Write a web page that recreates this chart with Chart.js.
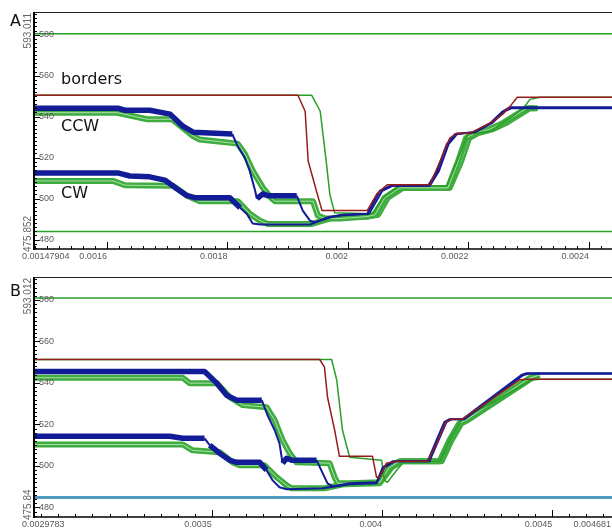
<!DOCTYPE html>
<html>
<head>
<meta charset="utf-8">
<script src="https://cdn.jsdelivr.net/npm/chart.js@4.4.1/dist/chart.umd.min.js"></script>
<style>
  html, body { margin: 0; padding: 0; background: #fff; overflow: hidden; width: 612px; height: 529px; }
  canvas { position: absolute; left: 0; }
  #chartA { top: 0; }
  #chartB { top: 264px; }
  .tag { position: absolute; font-family: "DejaVu Sans", sans-serif; font-size: 16px; line-height: 16px; color: #111; white-space: nowrap; }
</style>
</head>
<body>
<canvas id="chartA" width="616" height="264"></canvas>
<canvas id="chartB" width="616" height="265"></canvas>
<div class="tag" style="left:10px;top:13px">A</div>
<div class="tag" style="left:10px;top:283px">B</div>
<div class="tag" style="left:61px;top:71px">borders</div>
<div class="tag" style="left:61px;top:118px">CCW</div>
<div class="tag" style="left:61px;top:185px">CW</div>
<script>
// ---- panel A ----
const aXMin = 0.00147904, aXMax = 0.0024415;
const aYMin = 475.852, aYMax = 593.011;
const aXTicks = [0.0016, 0.0018, 0.002, 0.0022, 0.0024];
const aXTickLabels = ['0.0016', '0.0018', '0.002', '0.0022', '0.0024'];

const aEdgeX = [0.00147904, 0.0024415];
const aTopY = [580.5, 580.5];
const aBotY = [483.9, 483.9];

const aRedX = [0.00147904, 0.001917, 0.001929, 0.001934, 0.001949, 0.001957, 0.002032, 0.002048, 0.002065, 0.002136, 0.002153, 0.002169, 0.002181, 0.002203, 0.002236, 0.002257, 0.002269, 0.002281, 0.0024415];
const aRedY = [550.4, 550.4, 542.6, 518.3, 502.3, 494.1, 494.1, 502.3, 506.7, 506.7, 518.3, 529.5, 531.9, 531.9, 536.8, 541.2, 545.0, 549.4, 549.4];

const aGrnX = [0.00147904, 0.00194, 0.001954, 0.001964, 0.00197, 0.001978, 0.00204, 0.002058, 0.002086, 0.002164, 0.002186, 0.002199, 0.002236, 0.002269, 0.002291, 0.002302, 0.002319, 0.0024415];
const aGrnY = [550.4, 550.4, 542.6, 518.0, 502.0, 493.0, 492.6, 500.4, 506.2, 506.2, 521.7, 531.5, 532.9, 539.2, 544.1, 548.4, 549.4, 549.4];

const aCcwX = [0.00147904, 0.001618, 0.00163, 0.001671, 0.001705, 0.001726, 0.001743, 0.001808, 0.001817, 0.001829, 0.001837, 0.001846, 0.001849, 0.001859, 0.001867, 0.001915, 0.001925, 0.001937, 0.001945, 0.00197, 0.001987, 0.002032, 0.002053, 0.00207, 0.002133, 0.002148, 0.002164, 0.002178, 0.002208, 0.002236, 0.002257, 0.002269, 0.0024415];
const aCcwY = [544.1, 544.1, 543.1, 543.1, 541.2, 535.3, 532.4, 531.5, 525.6, 519.8, 513.5, 503.8, 499.9, 502.3, 501.4, 501.4, 494.1, 489.2, 488.3, 490.7, 491.7, 492.6, 503.8, 506.2, 506.2, 513.5, 526.6, 531.5, 532.4, 536.8, 542.6, 544.6, 544.6];

const aCwX = [0.00147904, 0.001618, 0.001638, 0.001671, 0.001696, 0.001716, 0.001733, 0.001746, 0.001804, 0.001821, 0.001832, 0.001842, 0.001854, 0.001937, 0.001965, 0.001992, 0.002035, 0.002057, 0.002074, 0.002136, 0.002151, 0.002167, 0.002181, 0.002211, 0.002239, 0.00226, 0.002272, 0.0024415];
const aCwY = [512.5, 512.5, 511.0, 510.6, 509.0, 504.8, 501.4, 500.4, 500.4, 495.5, 492.6, 487.8, 487.3, 487.3, 490.7, 492.1, 492.6, 503.8, 506.2, 506.2, 513.5, 526.6, 531.5, 532.4, 536.8, 542.6, 544.1, 544.1];

const aGccX = [0.00147904, 0.001617, 0.001667, 0.001708, 0.001743, 0.001754, 0.001817, 0.001829, 0.001842, 0.001859, 0.001874, 0.001879, 0.001942, 0.00195, 0.001962, 0.001987, 0.002032, 0.002045, 0.002061, 0.002086, 0.002166, 0.002183, 0.002196, 0.002211, 0.002236, 0.002257, 0.002281, 0.002297, 0.00231];
const aGccY = [541.9, 541.9, 538.7, 538.7, 530.5, 528.8, 526.8, 521.7, 513.5, 505.2, 499.9, 498.7, 498.7, 491.7, 490.2, 490.2, 491.2, 492.1, 500.4, 505.2, 505.2, 518.3, 529.5, 531.9, 533.9, 536.8, 541.2, 544.1, 544.1];

const aGcwX = [0.00147904, 0.00161, 0.00163, 0.00171, 0.001733, 0.001754, 0.001817, 0.001837, 0.001854, 0.001867, 0.00194, 0.00197, 0.001995, 0.002032, 0.00205, 0.002066, 0.002091, 0.002169, 0.002188, 0.002201, 0.002216, 0.002241, 0.002262, 0.002286, 0.002302, 0.002315];
const aGcwY = [508.6, 508.6, 506.5, 506.2, 501.4, 498.7, 498.7, 492.6, 489.2, 487.6, 487.6, 490.2, 491.2, 491.2, 492.1, 500.4, 505.2, 505.2, 518.3, 529.5, 531.9, 533.9, 536.8, 541.2, 544.1, 544.1];

// ---- panel B ----
const bXMin = 0.0029783, bXMax = 0.004681;
const bYMin = 475.84, bYMax = 593.012;
const bXTicks = [0.0035, 0.004, 0.0045, 0.004681];
const bXTickLabels = ['0.0035', '0.004', '0.0045', '0.004681'];

const bEdgeX = [0.0029783, 0.004681];
const bTopY = [581.0, 581.0];
const bBotY = [484.8, 484.8];

const bRedX = [0.0029783, 0.003817, 0.003831, 0.00384, 0.003861, 0.003875, 0.003972, 0.003984, 0.003993, 0.004013, 0.004043, 0.004134, 0.00416, 0.004189, 0.004204, 0.004236, 0.004403, 0.004424, 0.004681];
const bRedY = [551.3, 551.3, 547.6, 533.1, 517.2, 504.6, 504.6, 494.5, 494.5, 501.3, 502.2, 502.2, 510.9, 521.1, 522.5, 522.5, 541.4, 541.8, 541.8];

const bGrnX = [0.0029783, 0.003852, 0.003867, 0.003884, 0.003905, 0.003999, 0.004007, 0.004016, 0.004043, 0.004066, 0.004169, 0.004198, 0.004227, 0.004236, 0.004439, 0.004462, 0.004681];
const bGrnY = [551.3, 551.3, 541.4, 517.2, 504.2, 502.7, 493.0, 492.1, 497.9, 502.2, 502.2, 512.4, 520.6, 522.5, 541.4, 541.8, 541.8];

const bCcwX = [0.0029783, 0.003479, 0.003515, 0.003544, 0.003573, 0.003647, 0.003664, 0.003685, 0.003699, 0.003708, 0.00372, 0.003735, 0.003808, 0.003826, 0.00384, 0.003855, 0.003905, 0.003984, 0.004002, 0.004031, 0.004134, 0.00416, 0.004183, 0.004198, 0.004236, 0.004409, 0.004424, 0.004681];
const bCcwY = [545.5, 545.5, 539.9, 534.1, 531.7, 531.7, 524.4, 517.2, 510.9, 501.3, 503.7, 502.7, 502.7, 496.4, 491.6, 490.1, 491.6, 492.1, 499.3, 502.2, 502.2, 512.4, 521.1, 522.5, 522.5, 543.8, 544.7, 544.7];

const bCwX = [0.0029783, 0.003377, 0.003415, 0.003479, 0.003494, 0.003523, 0.003553, 0.003573, 0.003641, 0.003661, 0.003679, 0.003699, 0.00372, 0.003826, 0.003905, 0.003984, 0.004007, 0.004037, 0.004139, 0.004166, 0.004189, 0.004204, 0.004242, 0.004415, 0.00443, 0.004681];
const bCwY = [514.3, 514.3, 513.3, 513.3, 510.0, 506.1, 502.7, 501.7, 501.7, 497.9, 493.0, 489.7, 488.7, 489.2, 491.2, 491.6, 499.3, 502.2, 502.2, 512.4, 521.1, 522.5, 522.5, 543.8, 544.4, 544.4];

const bGccX = [0.0029783, 0.003415, 0.003435, 0.003515, 0.003553, 0.003591, 0.003661, 0.003685, 0.003708, 0.003729, 0.003749, 0.003846, 0.003861, 0.00387, 0.003905, 0.003993, 0.004022, 0.004051, 0.004169, 0.004198, 0.004227, 0.004245, 0.004433, 0.004462];
const bGccY = [542.5, 542.5, 539.9, 539.9, 533.1, 529.3, 528.3, 522.0, 512.4, 506.1, 501.7, 501.3, 494.5, 491.6, 491.6, 492.1, 499.3, 502.2, 502.2, 512.4, 520.6, 522.0, 542.3, 543.8];

const bGcwX = [0.0029783, 0.003415, 0.003444, 0.003523, 0.003562, 0.003582, 0.003655, 0.003691, 0.00372, 0.003735, 0.003831, 0.00389, 0.003993, 0.004028, 0.004057, 0.004175, 0.004204, 0.004233, 0.004251, 0.004439, 0.004462];
const bGcwY = [510.3, 510.3, 507.5, 506.6, 501.7, 500.3, 500.3, 494.5, 490.6, 489.2, 489.2, 491.2, 491.6, 499.3, 502.2, 502.2, 512.4, 520.6, 522.0, 542.3, 543.8];

const yTickValues = [480, 500, 520, 540, 560, 580];

const RED = 'rgb(150, 28, 28)';
const GREEN = 'rgb(40, 160, 40)';
const BUNDLE = 'rgb(62, 172, 62)';
const STRIPE = 'rgba(185, 230, 185, 0.9)';
const BLUE = 'rgb(18, 28, 150)';

function pts(xs, ys) {
    return xs.map((x, i) => ({ x: x, y: ys[i] }));
}

function thinLine(xs, ys, color, width) {
    return { data: pts(xs, ys), borderColor: color, borderWidth: width };
}

// blue traces: several runs overlap on the flats, so they read thick there
function blueLine(xs, ys, thinFrom) {
    return {
        data: pts(xs, ys),
        borderColor: BLUE,
        borderWidth: 5.5,
        segment: {
            borderWidth: ctx => {
                const a = ctx.p0, b = ctx.p1;
                const steep = Math.abs(b.y - a.y) > 1.3 * Math.abs(b.x - a.x);
                return (steep || xs[ctx.p0DataIndex] >= thinFrom) ? 2 : 5.5;
            }
        }
    };
}

const axisDeco = {
    id: 'axisDeco',
    afterDraw(chart, args, o) {
        const ctx = chart.ctx;
        const a = chart.chartArea;
        const xs = chart.scales.x, ys = chart.scales.y;
        const axisY = a.bottom + 1;
        const seg = (x1, y1, x2, y2) => { ctx.beginPath(); ctx.moveTo(x1, y1); ctx.lineTo(x2, y2); ctx.stroke(); };
        ctx.save();

        ctx.strokeStyle = '#222';
        ctx.lineWidth = 1;
        seg(a.left, a.top + 4.5, a.right, a.top + 4.5);

        ctx.strokeStyle = '#000';
        ctx.lineWidth = 2;
        seg(a.left, a.top + 4, a.left, axisY + 1);
        ctx.lineWidth = 1.5;
        seg(a.left, axisY, a.right, axisY);

        // y ticks
        ctx.lineWidth = 1;
        for (let k = Math.ceil(o.yMin / 2); k * 2 <= o.yMax; k++) {
            const v = k * 2;
            const py = Math.round(ys.getPixelForValue(v)) + 0.5;
            if (py < a.top + 5) continue;
            seg(a.left, py, a.left + (v % 20 === 0 ? 6 : 3), py);
        }
        // x ticks
        const n0 = Math.ceil(o.xMin / o.xMinor), n1 = Math.floor(o.xMax / o.xMinor);
        for (let k = n0; k <= n1; k++) {
            const px = Math.round(xs.getPixelForValue(k * o.xMinor)) + 0.5;
            seg(px, axisY, px, axisY - 3);
        }
        o.xTicks.forEach(v => {
            const px = Math.round(xs.getPixelForValue(v)) + 0.5;
            seg(px, axisY, px, axisY - 7);
        });

        // labels
        ctx.fillStyle = '#5a5a5a';
        ctx.font = '9px "Liberation Sans", Arial, sans-serif';
        ctx.textBaseline = 'middle';
        ctx.textAlign = 'left';
        yTickValues.forEach(v => {
            ctx.fillText(String(v), a.left + 5, ys.getPixelForValue(v));
        });
        ctx.fillText(o.xMinLabel, 22, axisY + 8);
        ctx.textAlign = 'right';
        o.xTicks.forEach((v, i) => {
            const px = Math.min(xs.getPixelForValue(v), 611);
            ctx.fillText(o.xLabels[i], px, axisY + 8);
        });

        ctx.font = '10px "Liberation Sans", Arial, sans-serif';
        ctx.fillStyle = '#666';
        ctx.save();
        ctx.translate(28, a.top + 5);
        ctx.rotate(-Math.PI / 2);
        ctx.textAlign = 'right';
        ctx.fillText(o.yMaxLabel, 0, 0);
        ctx.restore();
        ctx.save();
        ctx.translate(28, axisY + 3);
        ctx.rotate(-Math.PI / 2);
        ctx.textAlign = 'left';
        ctx.fillText(o.yMinLabel, 0, 0);
        ctx.restore();

        ctx.restore();
    }
};

function makeChart(id, datasets, pad, x0, x1, y0, y1, deco) {
    return new Chart(document.getElementById(id), {
        type: 'line',
        data: { datasets: datasets },
        options: {
            responsive: false,
            animation: false,
            events: [],
            parsing: false,
            layout: { padding: pad },
            elements: {
                point: { radius: 0 },
                line: { tension: 0, borderJoinStyle: 'round', fill: false }
            },
            plugins: {
                legend: { display: false },
                tooltip: { enabled: false },
                axisDeco: Object.assign({ xMin: x0, xMax: x1, yMin: y0, yMax: y1 }, deco)
            },
            scales: {
                x: { type: 'linear', min: x0, max: x1, display: false },
                y: { type: 'linear', min: y0, max: y1, display: false }
            }
        },
        plugins: [axisDeco]
    });
}

// first dataset is drawn on top; the light stripe runs inside each green bundle
makeChart('chartA', [
    thinLine(aRedX, aRedY, RED, 1.5),
    blueLine(aCcwX, aCcwY, 0.00192),
    blueLine(aCwX, aCwY, 0.00182),
    thinLine(aGrnX, aGrnY, GREEN, 1.5),
    thinLine(aGccX, aGccY, STRIPE, 1),
    thinLine(aGccX, aGccY, BUNDLE, 6),
    thinLine(aGcwX, aGcwY, STRIPE, 1),
    thinLine(aGcwX, aGcwY, BUNDLE, 6),
    thinLine(aEdgeX, aTopY, GREEN, 1.5),
    thinLine(aEdgeX, aBotY, GREEN, 1.5)
], { left: 34, right: 2, top: 8, bottom: 16 }, aXMin, aXMax, aYMin, aYMax, {
    xMinor: 0.00002, xTicks: aXTicks, xLabels: aXTickLabels,
    xMinLabel: '0.00147904', yMinLabel: '475.852', yMaxLabel: '593.011'
});

makeChart('chartB', [
    thinLine(bRedX, bRedY, RED, 1.5),
    blueLine(bCcwX, bCcwY, 0.00381),
    blueLine(bCwX, bCwY, 0.00366),
    thinLine(bGrnX, bGrnY, GREEN, 1.5),
    thinLine(bGccX, bGccY, STRIPE, 1),
    thinLine(bGccX, bGccY, BUNDLE, 6),
    thinLine(bGcwX, bGcwY, STRIPE, 1),
    thinLine(bGcwX, bGcwY, BUNDLE, 6),
    thinLine(bEdgeX, bTopY, GREEN, 1.5),
    thinLine(bEdgeX, bBotY, 'rgb(80, 155, 190)', 3)
], { left: 34, right: 2, top: 9, bottom: 13 }, bXMin, bXMax, bYMin, bYMax, {
    xMinor: 0.00005, xTicks: bXTicks, xLabels: bXTickLabels,
    xMinLabel: '0.0029783', yMinLabel: '475.84', yMaxLabel: '593.012'
});
</script>
</body>
</html>
